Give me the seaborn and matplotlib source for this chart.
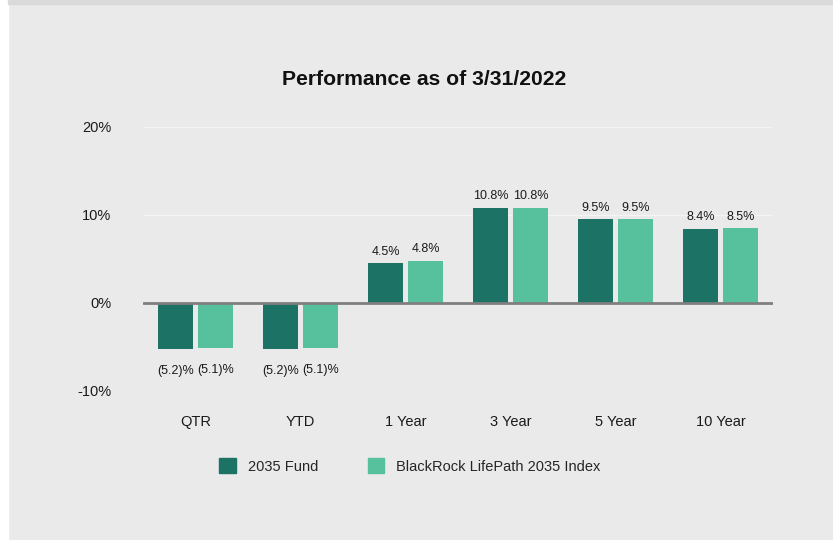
import pandas as pd
import matplotlib
matplotlib.use("Agg")
import matplotlib.pyplot as plt
import matplotlib.patches as mpatches
import seaborn as sns

# Chart data
periods = ["QTR", "YTD", "1 Year", "3 Year", "5 Year", "10 Year"]
fund_returns = [-5.2, -5.2, 4.5, 10.8, 9.5, 8.4]
index_returns = [-5.1, -5.1, 4.8, 10.8, 9.5, 8.5]
series_names = ["2035 Fund", "BlackRock LifePath 2035 Index"]
y_ticks = [-10, 0, 10, 20]

# Long format for seaborn
df = pd.DataFrame({
    "Period": periods * 2,
    "Return": fund_returns + index_returns,
    "Series": [series_names[0]] * len(periods) + [series_names[1]] * len(periods),
})

bg = "#EAEAEA"
colors = ["#1C7264", "#56C19C"]

sns.set_style("white")
plt.rcParams["font.family"] = ["Liberation Sans", "DejaVu Sans"]

fig = plt.figure(figsize=(8.33, 5.40), dpi=100, facecolor=bg)
ax = fig.add_axes([0.1717, 0.276, 0.7563, 0.489])
ax.set_facecolor(bg)

sns.barplot(data=df, x="Period", y="Return", hue="Series", order=periods,
            hue_order=series_names, palette=colors, width=0.76, gap=0.14,
            saturation=1, linewidth=0, ax=ax, legend=False)

# Grid and zero line
ax.set_ylim(-10, 20)
ax.set_xlim(-0.5, len(periods) - 0.5)
ax.set_yticks(y_ticks)
ax.set_yticklabels([f"{t}%" for t in y_ticks])
for t in y_ticks:
    if t != 0:
        ax.axhline(t, color="#F4F4F4", lw=1, zorder=0)
ax.axhline(0, color="#7F7F7F", lw=2, zorder=3)
for s in ax.spines.values():
    s.set_visible(False)
ax.tick_params(axis="y", length=0, pad=23, labelsize=10.5, colors="#1A1A1A")
ax.tick_params(axis="x", length=0, pad=17, labelsize=10.5, colors="#1A1A1A")
ax.set_xlabel("")
ax.set_ylabel("")

# Value labels
def fmt(v):
    return f"({abs(v):.1f})%" if v < 0 else f"{v:.1f}%"

for cont, vals in zip(ax.containers, [fund_returns, index_returns]):
    pos = [fmt(v) if v >= 0 else "" for v in vals]
    neg = [fmt(v) if v < 0 else "" for v in vals]
    ax.bar_label(cont, labels=pos, padding=4, fontsize=9, color="#1A1A1A")
    ax.bar_label(cont, labels=neg, padding=12, fontsize=9, color="#1A1A1A")

fig.text(0.509, 0.853, "Performance as of 3/31/2022", ha="center", va="center",
         fontsize=15.2, fontweight="bold", color="#111111")

handles = [mpatches.Patch(color=c, label=n) for c, n in zip(colors, series_names)]
fig.legend(handles=handles, loc="center", bbox_to_anchor=(0.492, 0.137), ncol=2,
           frameon=False, fontsize=10.5, handlelength=1.15, handleheight=1.15,
           columnspacing=3.4, handletextpad=0.8)

# Frame decoration: white left margin, darker top strip
fig.patches.append(mpatches.Rectangle((0, 0), 8 / 833, 1, transform=fig.transFigure,
                                      color="white", zorder=-1))
fig.patches.append(mpatches.Rectangle((8 / 833, 1 - 4 / 540), 1, 4 / 540,
                                      transform=fig.transFigure, color="#DADADA", zorder=-1))

fig.savefig("out.png", dpi=100, facecolor=bg)
